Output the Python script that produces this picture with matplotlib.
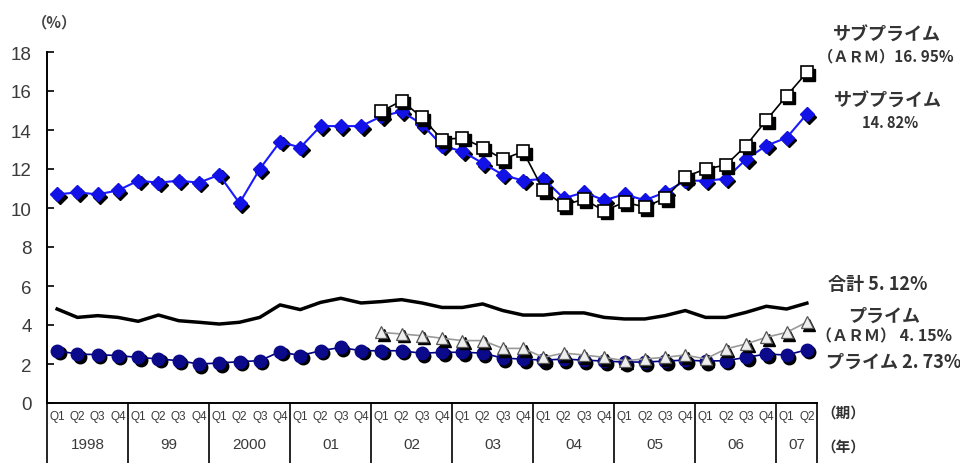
import numpy as np
import matplotlib
matplotlib.use("Agg")
import matplotlib.pyplot as plt
from matplotlib.transforms import offset_copy, blended_transform_factory

plt.rcParams['font.family'] = ['Liberation Sans', 'Noto Sans CJK JP', 'DejaVu Sans']

# Quarterly delinquency rates (%), 1998 Q1 - 2007 Q2
quarters = ['Q1', 'Q2', 'Q3', 'Q4'] * 9 + ['Q1', 'Q2']
years = ['1998', '99', '2000', '01', '02', '03', '04', '05', '06', '07']

subprime = [10.7, 10.8, 10.7, 10.9, 11.4, 11.3, 11.4, 11.3, 11.7, 10.25,
            12.0, 13.4, 13.1, 14.2, 14.2, 14.2, 14.7, 14.95, 14.3, 13.2,
            12.9, 12.3, 11.7, 11.4, 11.5, 10.5, 10.8, 10.4, 10.7, 10.4,
            10.8, 11.4, 11.4, 11.5, 12.5, 13.2, 13.6, 14.82]

# ARM series start in 2002 Q1
arm_start = 16
subprime_arm = [14.95, 15.5, 14.65, 13.5, 13.6, 13.1, 12.5, 12.9, 10.9, 10.15,
                10.45, 9.85, 10.3, 10.05, 10.5, 11.6, 12.0, 12.2, 13.2, 14.5,
                15.75, 16.95]

prime = [2.68, 2.51, 2.48, 2.43, 2.34, 2.26, 2.17, 2.0, 2.05, 2.12,
         2.17, 2.63, 2.43, 2.68, 2.85, 2.68, 2.68, 2.68, 2.55, 2.6,
         2.6, 2.56, 2.3, 2.25, 2.2, 2.25, 2.2, 2.15, 2.1, 2.1,
         2.15, 2.2, 2.15, 2.17, 2.34, 2.51, 2.46, 2.73]

prime_arm = [3.62, 3.54, 3.45, 3.32, 3.2, 3.2, 2.8, 2.8, 2.34, 2.56,
             2.46, 2.34, 2.17, 2.26, 2.34, 2.46, 2.26, 2.77, 3.03, 3.37,
             3.62, 4.15]

total = [4.82, 4.39, 4.48, 4.39, 4.19, 4.51, 4.22, 4.14, 4.05, 4.14,
         4.39, 5.03, 4.79, 5.16, 5.37, 5.13, 5.2, 5.3, 5.13, 4.9,
         4.9, 5.08, 4.74, 4.51, 4.51, 4.62, 4.62, 4.39, 4.31, 4.31,
         4.48, 4.74, 4.39, 4.39, 4.65, 4.96, 4.82, 5.12]

W, H = 960, 464
fig = plt.figure(figsize=(W / 100, H / 100), dpi=100)
ax = fig.add_axes([47 / W, 1 - 404 / H, (817 - 47) / W, (404 - 53) / H])

x = np.arange(len(quarters))
x_arm = x[arm_start:]

shadow = offset_copy(ax.transData, fig=fig, x=2.5, y=-2.5, units='dots')


def series(xv, yv, marker, ms, line_color, face, edge, lw=1.2, mew=1.0, z=3):
    ax.plot(xv, yv, linestyle='none', marker=marker, ms=ms, color='black',
            mec='black', transform=shadow, zorder=z)
    ax.plot(xv, yv, color=line_color, lw=lw, marker=marker, ms=ms,
            mfc=face, mec=edge, mew=mew, zorder=z + 0.5)


series(x, subprime, 'D', 7.2, '#1a1aff', '#1212e6', '#1212e6', lw=1.5, z=3)
series(x_arm, subprime_arm, 's', 8.2, 'black', 'white', 'black', mew=1.2, z=4)
series(x, prime, 'o', 9.0, '#000080', '#0a0a8a', '#0a0a8a', z=5)
series(x_arm, prime_arm, '^', 8.0, '#9a9a9a', '#eeeeee', '#555555', mew=0.9, z=6)
ax.plot(x, total, color='black', lw=2.5, zorder=7)

ax.set_xlim(-0.5, len(quarters) - 0.5)
ax.set_ylim(0, 18)
ax.set_yticks(np.arange(0, 19, 2))
ax.tick_params(axis='y', direction='in', length=5, width=1.2, labelsize=13.5,
               labelcolor='#3a3a3a', pad=11)
ax.set_xticks(x)
ax.set_xticklabels(quarters, fontsize=8.5, color='#3a3a3a')
ax.tick_params(axis='x', length=0, pad=5)
for s in ['top', 'right']:
    ax.spines[s].set_visible(False)
ax.spines['left'].set_linewidth(1.4)
ax.spines['bottom'].set_linewidth(1.4)

# Year boxes under the quarter labels
bt = blended_transform_factory(ax.transData, ax.transAxes)
bounds = list(np.arange(-0.5, len(quarters), 4)) + [len(quarters) - 0.5]
for b in bounds:
    ax.plot([b, b], [0, -0.2], color='black', lw=1.2, transform=bt, clip_on=False)
for i, yr in enumerate(years):
    lo = bounds[i]
    hi = bounds[i + 1]
    ax.text((lo + hi) / 2, -0.117, yr, transform=bt, ha='center', va='center',
            fontsize=11, color='#3a3a3a')

jp = ['Noto Sans CJK JP', 'DejaVu Sans']
tc = '#333333'
kw = dict(va='center', color=tc, family=jp, fontweight='bold')
fig.text(54 / W, 1 - 22 / H, '（%）', ha='center', fontsize=11,
         **{**kw, 'color': '#444444'})
fig.text(887 / W, 1 - 35 / H, 'サブプライム', ha='center', fontsize=13, **kw)
fig.text(954 / W, 1 - 56 / H, '（ＡＲＭ）16. 95%', ha='right', fontsize=11, **kw)
fig.text(888 / W, 1 - 101 / H, 'サブプライム', ha='center', fontsize=13, **kw)
fig.text(890 / W, 1 - 123 / H, '14. 82%', ha='center', fontsize=10.5, **kw)
fig.text(828 / W, 1 - 285 / H, '合計 5. 12%', ha='left', fontsize=13, **kw)
fig.text(884 / W, 1 - 316 / H, 'プライム', ha='center', fontsize=13, **kw)
fig.text(816 / W, 1 - 336 / H, '（ＡＲＭ） 4. 15%', ha='left', fontsize=11.5, **kw)
fig.text(826 / W, 1 - 362 / H, 'プライム 2. 73%', ha='left', fontsize=13, **kw)
fig.text(821 / W, 1 - 413 / H, '（期）', ha='left', fontsize=10.5, **kw)
fig.text(821 / W, 1 - 447 / H, '（年）', ha='left', fontsize=10.5, **kw)

fig.savefig('out.png', dpi=100)
